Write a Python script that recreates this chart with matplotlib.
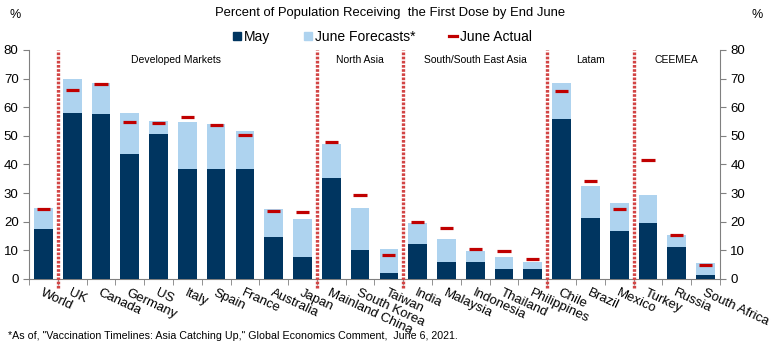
import matplotlib.pyplot as plt
from matplotlib.lines import Line2D
import numpy as np

plt.rcParams['font.family'] = ['Liberation Sans', 'DejaVu Sans']

countries = ['World', 'UK', 'Canada', 'Germany', 'US', 'Italy', 'Spain', 'France',
             'Australia', 'Japan', 'Mainland China', 'South Korea', 'Taiwan',
             'India', 'Malaysia', 'Indonesia', 'Thailand', 'Philippines',
             'Chile', 'Brazil', 'Mexico', 'Turkey', 'Russia', 'South Africa']
may = [17.5, 58.1, 57.8, 43.8, 50.8, 38.5, 38.5, 38.5, 14.7, 7.7,
       35.4, 10.2, 2.1, 12.3, 6.0, 6.0, 3.5, 3.5,
       56.0, 21.4, 16.8, 19.6, 11.2, 1.4]
june_forecast = [24.9, 70.0, 68.3, 58.1, 55.3, 55.0, 54.3, 51.8, 24.5, 21.0,
                 47.3, 24.9, 10.5, 19.6, 14.0, 9.8, 7.7, 6.0,
                 68.3, 32.6, 26.6, 29.4, 15.4, 5.6]
june_actual = [24.4, 66.0, 68.1, 54.8, 54.5, 56.6, 53.8, 50.3, 23.7, 23.3,
               47.8, 29.3, 8.3, 19.8, 17.7, 10.4, 9.7, 6.9,
               65.7, 34.2, 24.4, 41.5, 15.3, 4.8]

groups = ['Developed Markets', 'North Asia', 'South/South East Asia', 'Latam', 'CEEMEA']
group_first = [1, 10, 13, 18, 21]
group_last = [9, 12, 17, 20, 23]

navy = '#003560'
light = '#AED3EF'
red = '#C00000'
sep_red = '#D24545'
gray = '#808080'

fig = plt.figure(figsize=(7.73, 3.47), dpi=100)
ax = fig.add_axes([0.0375, 0.196, 0.8939, 0.66])

x = np.arange(len(countries))
w = 0.65
ax.bar(x, june_forecast, width=w, color=light, zorder=2)
ax.bar(x, may, width=w, color=navy, zorder=3)
ax.hlines(june_actual, x - 0.23, x + 0.23, color=red, linewidth=2.3, zorder=4)

# region separators
for first in group_first:
    ax.vlines(first - 0.5, -3, 80, colors=sep_red, linestyles=(0, (0.8, 0.45)),
              linewidth=2.4, clip_on=False, zorder=5)

for name, a, b in zip(groups, group_first, group_last):
    ax.text((a + b) / 2 - 0.4 if name == 'Developed Markets' else (a + b) / 2, 76.5, name,
            ha='center', va='center', fontsize=7.5)

ax.set_xlim(-0.5, len(countries) - 0.5)
ax.set_ylim(0, 80)
ax.set_yticks(range(0, 81, 10))

ax.set_xticks(x)
ax.set_xticklabels(countries, rotation=-25, ha='left', rotation_mode='anchor', fontsize=9.5)
ax.tick_params(axis='x', length=0, pad=6)
ax.set_xticks(np.arange(-0.5, len(countries), 1), minor=True)
ax.tick_params(axis='x', which='minor', length=4, color=gray)

ax.tick_params(axis='y', length=4, color=gray, labelsize=9.5, direction='out')
ax.spines['top'].set_visible(False)
ax.spines['right'].set_visible(False)
for s in ['left', 'bottom']:
    ax.spines[s].set_color(gray)

ax2 = ax.twinx()
ax2.set_ylim(0, 80)
ax2.set_yticks(range(0, 81, 10))
ax2.tick_params(axis='y', length=4, color=gray, labelsize=9.5)
for s in ['top', 'left', 'bottom']:
    ax2.spines[s].set_visible(False)
ax2.spines['right'].set_color(gray)

fig.text(0.504, 0.963, 'Percent of Population Receiving  the First Dose by End June',
         ha='center', va='center', fontsize=9.4)
fig.text(0.02, 0.958, '%', ha='center', va='center', fontsize=9)
fig.text(0.979, 0.958, '%', ha='center', va='center', fontsize=9)

handles = [Line2D([], [], marker='s', color=navy, linestyle='none', markersize=6),
           Line2D([], [], marker='s', color=light, linestyle='none', markersize=6),
           Line2D([], [], color=red, linewidth=2.3)]
fig.legend(handles, ['May', 'June Forecasts*', 'June Actual'], ncol=3,
           loc='center', bbox_to_anchor=(0.495, 0.893), frameon=False, fontsize=10,
           handlelength=0.6, handletextpad=0.2, columnspacing=2.4)

fig.text(0.01, 0.033, '*As of, "Vaccination Timelines: Asia Catching Up," Global Economics Comment,  June 6, 2021.',
         ha='left', va='center', fontsize=7.7)

fig.savefig('out.png', dpi=100)
